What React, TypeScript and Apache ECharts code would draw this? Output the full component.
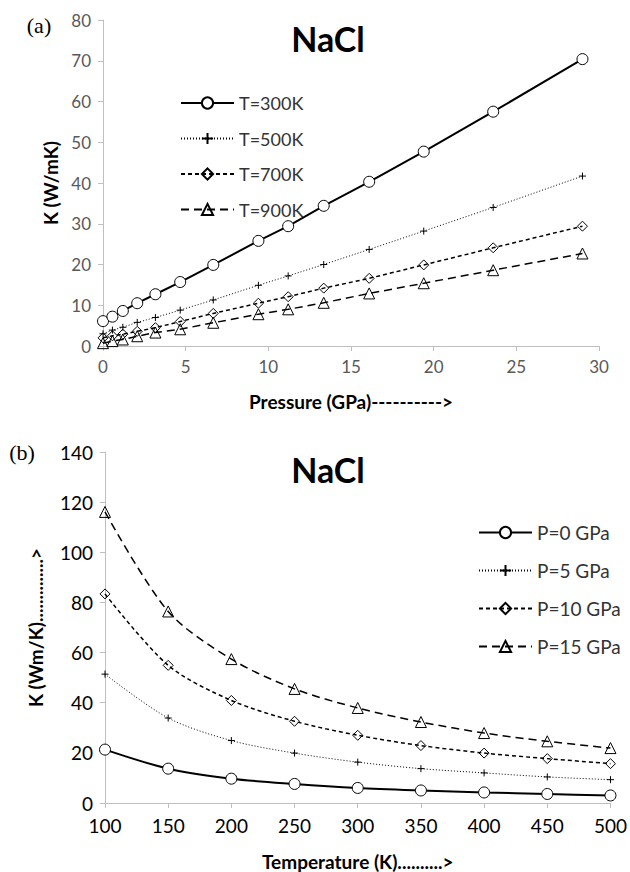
import React, { useEffect, useRef } from "react";
import * as echarts from "echarts";

const pressure = [0, 0.57, 1.2, 2.07, 3.17, 4.67, 6.67, 9.4, 11.2, 13.35, 16.1, 19.4, 23.6, 29.0];
const kT300 = [6.1, 7.2, 8.6, 10.5, 12.7, 15.7, 19.9, 25.8, 29.4, 34.4, 40.3, 47.7, 57.5, 70.4];
const kT500 = [3.0, 3.9, 4.6, 5.8, 7.0, 8.8, 11.3, 14.9, 17.2, 20.0, 23.7, 28.2, 34.0, 41.7];
const kT700 = [2.0, 2.5, 2.9, 3.6, 4.5, 6.0, 8.0, 10.5, 12.1, 14.2, 16.6, 19.9, 24.1, 29.4];
const kT900 = [0.7, 1.2, 1.6, 2.4, 3.3, 4.1, 5.7, 7.8, 9.0, 10.6, 12.9, 15.4, 18.6, 22.7];

const temperature = [100, 150, 200, 250, 300, 350, 400, 450, 500];
const kP0 = [21.3, 13.7, 9.7, 7.6, 6.0, 5.0, 4.2, 3.6, 3.0];
const kP5 = [51.4, 33.9, 24.9, 19.9, 16.3, 13.7, 12.0, 10.4, 9.3];
const kP10 = [83.4, 54.9, 40.9, 32.6, 27.0, 22.9, 19.9, 17.7, 15.7];
const kP15 = [116.1, 76.4, 57.4, 45.5, 37.9, 32.3, 27.9, 24.6, 21.9];

const topNames = ["T=300K", "T=500K", "T=700K", "T=900K"];
const bottomNames = ["P=0 GPa", "P=5 GPa", "P=10 GPa", "P=15 GPa"];

const FONT = "Lato, 'Open Sans', sans-serif";
const PLUS = "path://M0,5L10,5M5,0L5,10";

const styles = [
  { symbol: "circle", size: 11, type: "solid" as any, width: 2, fill: "#fff" },
  { symbol: PLUS, size: 7, type: [1, 2] as any, width: 1, fill: "transparent" },
  { symbol: "diamond", size: 10, type: [4, 3] as any, width: 1.5, fill: "transparent" },
  { symbol: "triangle", size: 11, type: [8, 5] as any, width: 1.5, fill: "transparent" },
];

function mk(name: string, xs: number[], ys: number[], i: number, idx: number, smooth: any) {
  const s = styles[i];
  return {
    type: "line",
    name,
    xAxisIndex: idx,
    yAxisIndex: idx,
    data: xs.map((x, j) => [x, ys[j]]),
    symbol: s.symbol,
    symbolSize: s.size,
    showAllSymbol: true,
    smooth,
    lineStyle: { color: "#000", width: s.width, type: s.type },
    itemStyle: { color: s.fill, borderColor: "#000", borderWidth: 1 },
    emphasis: { disabled: true },
  };
}

export default function App() {
  const ref = useRef<HTMLDivElement>(null);
  useEffect(() => {
    const chart = echarts.init(ref.current!, null, { renderer: "svg" });
    const axisLine = { show: true, lineStyle: { color: "#bfbfbf", width: 1 } };
    const axisTick = { show: true, length: 5, lineStyle: { color: "#bfbfbf" } };
    chart.setOption({
      animation: false,
      backgroundColor: "#fff",
      grid: [
        { left: 103, right: 31, top: 20, height: 326 },
        { left: 105, right: 18, top: 452, height: 351 },
      ],
      xAxis: [
        {
          gridIndex: 0, type: "value", min: 0, max: 30, interval: 5,
          axisLine, axisTick, splitLine: { show: false },
          axisLabel: { color: "#595959", fontSize: 17, fontFamily: FONT, margin: 12 },
          name: "Pressure (GPa)---------->", nameLocation: "middle", nameGap: 46,
          nameTextStyle: { color: "#000", fontSize: 19, fontWeight: "bold", fontFamily: FONT },
        },
        {
          gridIndex: 1, type: "value", min: 100, max: 500, interval: 50,
          axisLine, axisTick, splitLine: { show: false },
          axisLabel: { color: "#000", fontSize: 19, fontFamily: FONT, margin: 13 },
          name: "Temperature (K)..........>", nameLocation: "middle", nameGap: 49,
          nameTextStyle: { color: "#000", fontSize: 19, fontWeight: "bold", fontFamily: FONT },
        },
      ],
      yAxis: [
        {
          gridIndex: 0, type: "value", min: 0, max: 80, interval: 10,
          axisLine, axisTick, splitLine: { show: false },
          axisLabel: { color: "#595959", fontSize: 17, fontFamily: FONT, margin: 12 },
          name: "K (W/mK)", nameLocation: "middle", nameGap: 42,
          nameTextStyle: { color: "#000", fontSize: 19, fontWeight: "bold", fontFamily: FONT },
        },
        {
          gridIndex: 1, type: "value", min: 0, max: 140, interval: 20,
          axisLine, axisTick, splitLine: { show: false },
          axisLabel: { color: "#000", fontSize: 19, fontFamily: FONT, margin: 12 },
          name: "K (Wm/K)..............>", nameLocation: "middle", nameGap: 60,
          nameTextStyle: { color: "#000", fontSize: 19, fontWeight: "bold", fontFamily: FONT },
        },
      ],
      legend: [
        {
          data: topNames, orient: "vertical", left: 175, top: 89,
          itemWidth: 53, itemHeight: 14, itemGap: 17.5,
          textStyle: { color: "#333", fontSize: 18, fontFamily: FONT },
          selectedMode: false,
        },
        {
          data: bottomNames, orient: "vertical", left: 473, top: 518,
          itemWidth: 53, itemHeight: 14, itemGap: 19,
          textStyle: { color: "#333", fontSize: 19, fontFamily: FONT },
          selectedMode: false,
        },
      ],
      graphic: [
        { type: "text", x: 328, y: 38, style: { text: "NaCl", font: `bold 34px ${FONT}`, fill: "#000", align: "center", verticalAlign: "middle" } },
        { type: "text", x: 328, y: 469, style: { text: "NaCl", font: `bold 34px ${FONT}`, fill: "#000", align: "center", verticalAlign: "middle" } },
        { type: "text", x: 39, y: 25, style: { text: "(a)", font: "22px 'Liberation Serif', 'DejaVu Serif', serif", fill: "#000", align: "center", verticalAlign: "middle" } },
        { type: "text", x: 22, y: 452, style: { text: "(b)", font: "22px 'Liberation Serif', 'DejaVu Serif', serif", fill: "#000", align: "center", verticalAlign: "middle" } },
      ],
      series: [
        mk(topNames[0], pressure, kT300, 0, 0, false),
        mk(topNames[1], pressure, kT500, 1, 0, false),
        mk(topNames[2], pressure, kT700, 2, 0, false),
        mk(topNames[3], pressure, kT900, 3, 0, false),
        mk(bottomNames[0], temperature, kP0, 0, 1, 0.3),
        mk(bottomNames[1], temperature, kP5, 1, 1, 0.3),
        mk(bottomNames[2], temperature, kP10, 2, 1, 0.3),
        mk(bottomNames[3], temperature, kP15, 3, 1, 0.3),
      ],
    });
    return () => chart.dispose();
  }, []);
  return (
    <div
      ref={ref}
      style={{ position: "absolute", left: 0, top: 0, width: 630, height: 872 }}
    />
  );
}
